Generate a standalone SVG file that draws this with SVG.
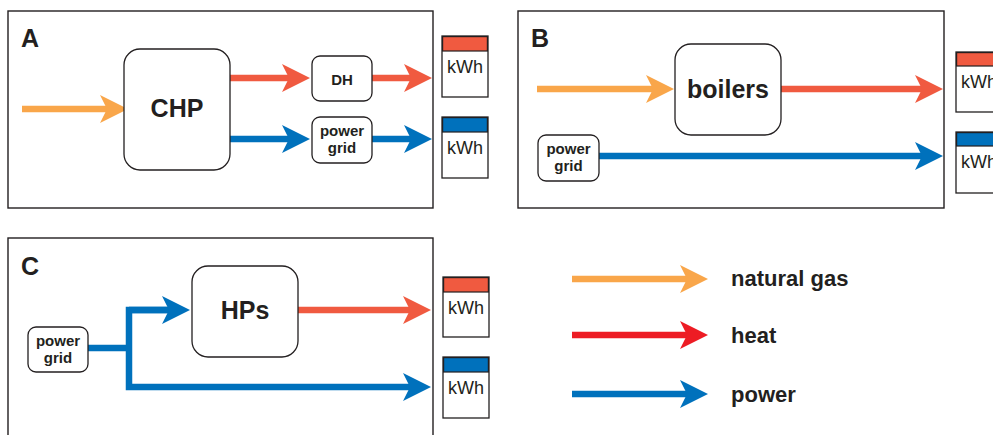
<svg xmlns="http://www.w3.org/2000/svg" width="993" height="435" viewBox="0 0 993 435">
<style>
.panel{fill:#fff;stroke:#231F20;stroke-width:1.4}
.box{fill:#fff;stroke:#231F20;stroke-width:1.3}
.t{font-family:"Liberation Sans",Arial,sans-serif;fill:#231F20;font-weight:bold;text-anchor:middle}
.lbl{font-family:"Liberation Sans",Arial,sans-serif;fill:#231F20;font-weight:bold;font-size:25px}
.kwh{font-family:"Liberation Sans",Arial,sans-serif;fill:#231F20;font-size:18px;text-anchor:middle}
.g{fill:none;stroke:#F9A64A;stroke-width:6.5}
.h{fill:none;stroke:#F05A40;stroke-width:6.5}
.hl{fill:none;stroke:#ED1C24;stroke-width:6.5}
.p{fill:none;stroke:#0071BC;stroke-width:6.5}
</style>
<defs>
<marker id="mg" markerUnits="userSpaceOnUse" viewBox="0 0 28 28" refX="7" refY="14" markerWidth="28" markerHeight="28" orient="auto"><path d="M0,0 L28,14 L0,28 L7,14 Z" fill="#F9A64A"/></marker>
<marker id="mh" markerUnits="userSpaceOnUse" viewBox="0 0 28 28" refX="7" refY="14" markerWidth="28" markerHeight="28" orient="auto"><path d="M0,0 L28,14 L0,28 L7,14 Z" fill="#F05A40"/></marker>
<marker id="mhl" markerUnits="userSpaceOnUse" viewBox="0 0 28 28" refX="7" refY="14" markerWidth="28" markerHeight="28" orient="auto"><path d="M0,0 L28,14 L0,28 L7,14 Z" fill="#ED1C24"/></marker>
<marker id="mp" markerUnits="userSpaceOnUse" viewBox="0 0 28 28" refX="7" refY="14" markerWidth="28" markerHeight="28" orient="auto"><path d="M0,0 L28,14 L0,28 L7,14 Z" fill="#0071BC"/></marker>
</defs>

<g id="panelA">
<rect class="panel" x="8" y="11" width="425" height="197"/>
<text class="lbl" x="21" y="47">A</text>
</g>
<g id="panelB">
<rect class="panel" x="518" y="11" width="426" height="197"/>
<text class="lbl" x="531" y="47">B</text>
</g>
<g id="panelC">
<rect class="panel" x="8" y="238" width="425" height="210"/>
<text class="lbl" x="21" y="275">C</text>
</g>

<g id="connectors">
<path class="g" d="M22,109 H107" marker-end="url(#mg)"/>
<path class="h" d="M230,78 H289" marker-end="url(#mh)"/>
<path class="h" d="M372,78 H411" marker-end="url(#mh)"/>
<path class="p" d="M230,139 H289" marker-end="url(#mp)"/>
<path class="p" d="M372,139 H411" marker-end="url(#mp)"/>
<path class="g" d="M537,89 H653" marker-end="url(#mg)"/>
<path class="h" d="M781,89 H922" marker-end="url(#mh)"/>
<path class="p" d="M599,156 H922" marker-end="url(#mp)"/>
<path class="p" d="M88,348 H129"/>
<path class="p" d="M170,310 H129 V387 H410" marker-end="url(#mp)"/>
<path class="p" d="M129,310 H169" marker-end="url(#mp)"/>
<path class="h" d="M298,310 H410" marker-end="url(#mh)"/>
<path class="g" d="M572,279 H687" marker-end="url(#mg)"/>
<path class="hl" d="M572,335 H687" marker-end="url(#mhl)"/>
<path class="p" d="M572,394 H687" marker-end="url(#mp)"/>
</g>

<g id="chp">
<rect class="box" x="124" y="49" width="106" height="121" rx="16"/>
<text class="t" x="177" y="117" font-size="25">CHP</text>
</g>
<g id="dh">
<rect class="box" x="312" y="56" width="60" height="45" rx="8"/>
<text class="t" x="342" y="85" font-size="15">DH</text>
</g>
<g id="gridA">
<rect class="box" x="312" y="117" width="60" height="46" rx="8"/>
<text class="t" x="342" y="136" font-size="15">power</text>
<text class="t" x="342" y="153" font-size="15">grid</text>
</g>
<g id="boilers">
<rect class="box" x="675" y="44" width="106" height="91" rx="16"/>
<text class="t" x="728" y="98" font-size="25">boilers</text>
</g>
<g id="gridB">
<rect class="box" x="538" y="135" width="61" height="46" rx="8"/>
<text class="t" x="568.5" y="154" font-size="15">power</text>
<text class="t" x="568.5" y="171" font-size="15">grid</text>
</g>
<g id="hps">
<rect class="box" x="192" y="266" width="106" height="91" rx="16"/>
<text class="t" x="245" y="319" font-size="25">HPs</text>
</g>
<g id="gridC">
<rect class="box" x="28" y="327" width="60" height="45" rx="8"/>
<text class="t" x="58" y="346" font-size="15">power</text>
<text class="t" x="58" y="363" font-size="15">grid</text>
</g>

<g id="kwhA1"><rect class="box" x="442" y="36" width="46" height="61"/><rect x="442.6" y="36.6" width="44.8" height="14.4" fill="#F05A40" stroke="#231F20" stroke-width="1.2"/><text class="kwh" x="465" y="73">kWh</text></g>
<g id="kwhA2"><rect class="box" x="442" y="117" width="46" height="61"/><rect x="442.6" y="117.6" width="44.8" height="14.4" fill="#0071BC" stroke="#231F20" stroke-width="1.2"/><text class="kwh" x="465" y="154">kWh</text></g>
<g id="kwhB1"><rect class="box" x="956" y="52" width="46" height="60"/><rect x="956.6" y="52.6" width="44.8" height="13.4" fill="#F05A40" stroke="#231F20" stroke-width="1.2"/><text class="kwh" x="979" y="88">kWh</text></g>
<g id="kwhB2"><rect class="box" x="956" y="132" width="46" height="61"/><rect x="956.6" y="132.6" width="44.8" height="13.4" fill="#0071BC" stroke="#231F20" stroke-width="1.2"/><text class="kwh" x="979" y="168">kWh</text></g>
<g id="kwhC1"><rect class="box" x="443" y="277" width="46" height="60"/><rect x="443.6" y="277.6" width="44.8" height="14.4" fill="#F05A40" stroke="#231F20" stroke-width="1.2"/><text class="kwh" x="466" y="314">kWh</text></g>
<g id="kwhC2"><rect class="box" x="443" y="357" width="46" height="61"/><rect x="443.6" y="357.6" width="44.8" height="14.4" fill="#0071BC" stroke="#231F20" stroke-width="1.2"/><text class="kwh" x="466" y="394">kWh</text></g>

<g id="legend">
<text class="lbl" x="731" y="286" style="font-size:22px">natural gas</text>
<text class="lbl" x="731" y="343" style="font-size:22px">heat</text>
<text class="lbl" x="731" y="402" style="font-size:22px">power</text>
</g>
</svg>
